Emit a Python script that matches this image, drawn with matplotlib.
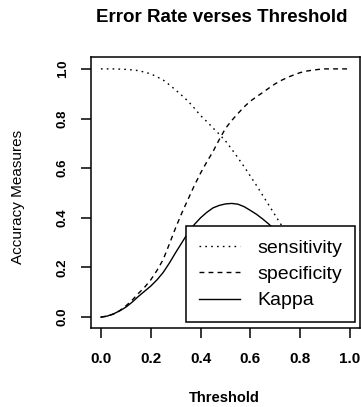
#!/usr/bin/env python3
# coding: utf-8

import matplotlib
matplotlib.use('Agg')
import matplotlib.pyplot as plt

# --- values (threshold step 0.025)
threshold = [0.000, 0.025, 0.050, 0.075, 0.100, 0.125, 0.150, 0.175,
             0.200, 0.225, 0.250, 0.275, 0.300, 0.325, 0.350, 0.375,
             0.400, 0.425, 0.450, 0.475, 0.500, 0.525, 0.550, 0.575,
             0.600, 0.625, 0.650, 0.675, 0.700, 0.725, 0.750, 0.775,
             0.800, 0.825, 0.850, 0.875, 0.900, 0.925, 0.950, 0.975,
             1.000]
sensitivity = [1.000, 1.000, 1.000, 0.999, 0.998, 0.996, 0.993, 0.987,
               0.980, 0.968, 0.955, 0.936, 0.915, 0.893, 0.870, 0.842,
               0.812, 0.788, 0.762, 0.737, 0.710, 0.677, 0.642, 0.606,
               0.568, 0.530, 0.490, 0.450, 0.410, 0.370, 0.330, 0.290,
               0.250, 0.210, 0.170, 0.133, 0.100, 0.073, 0.050, 0.032,
               0.020]
specificity = [0.000, 0.004, 0.012, 0.026, 0.045, 0.068, 0.095, 0.120,
               0.150, 0.188, 0.232, 0.295, 0.360, 0.420, 0.475, 0.530,
               0.580, 0.625, 0.667, 0.715, 0.760, 0.792, 0.820, 0.847,
               0.870, 0.888, 0.905, 0.923, 0.940, 0.954, 0.966, 0.976,
               0.985, 0.991, 0.995, 0.998, 1.000, 1.000, 1.000, 1.000,
               1.000]
kappa = [0.000, 0.004, 0.013, 0.025, 0.040, 0.060, 0.083, 0.104,
         0.125, 0.150, 0.180, 0.218, 0.260, 0.300, 0.340, 0.373,
         0.400, 0.422, 0.440, 0.450, 0.456, 0.458, 0.455, 0.445,
         0.430, 0.414, 0.395, 0.374, 0.350, 0.322, 0.292, 0.262,
         0.230, 0.195, 0.160, 0.128, 0.100, 0.073, 0.050, 0.028,
         0.010]
xticks = [0.0, 0.2, 0.4, 0.6, 0.8, 1.0]
yticks = [0.0, 0.2, 0.4, 0.6, 0.8, 1.0]

plt.rcParams['font.family'] = ['Liberation Sans', 'DejaVu Sans']

fig = plt.figure(figsize=(3.61, 4.07), dpi=100)
ax = fig.add_axes([0.252, 0.194, 0.745, 0.666])

ax.plot(threshold, sensitivity, color='black', lw=1.0,
        linestyle=(0, (1.2, 3.0)), label='sensitivity')
ax.plot(threshold, specificity, color='black', lw=1.0,
        linestyle=(0, (3.5, 3.0)), label='specificity')
ax.plot(threshold, kappa, color='black', lw=1.0, label='Kappa')

ax.set_xlim(-0.04, 1.04)
ax.set_ylim(-0.044, 1.048)
ax.set_xticks(xticks)
ax.set_yticks(yticks)
ax.set_xticklabels(['%.1f' % t for t in xticks], fontweight='bold',
                   fontsize=11)
ax.set_yticklabels(['%.1f' % t for t in yticks], fontsize=9.5,
                   fontweight='bold', rotation=90, va='center')
ax.tick_params(axis='x', length=7, width=1.1, pad=10)
ax.tick_params(axis='y', length=7, width=1.1, pad=9)
for sp in ax.spines.values():
    sp.set_linewidth(1.1)

leg = ax.legend(loc='lower right', bbox_to_anchor=(0.981, 0.022),
                borderaxespad=0, fancybox=False, framealpha=1,
                edgecolor='black', fontsize=14, handlelength=2.1,
                handletextpad=0.9, borderpad=0.65, labelspacing=0.45)
leg.get_frame().set_linewidth(1.1)

fig.text(0.615, 0.956, 'Error Rate verses Threshold', ha='center',
         va='center', fontsize=13.5, fontweight='bold')
fig.text(0.62, 0.022, 'Threshold', ha='center', va='center',
         fontsize=10.5, fontweight='bold')
fig.text(0.05, 0.516, 'Accuracy Measures', ha='center', va='center',
         rotation=90, fontsize=11)

fig.savefig('out.png', dpi=100)
